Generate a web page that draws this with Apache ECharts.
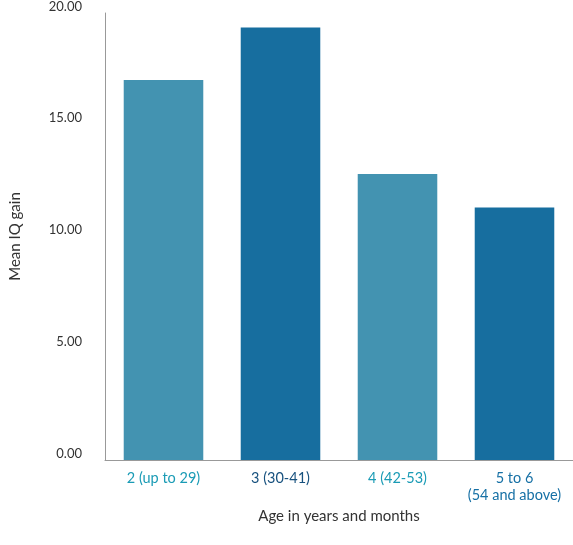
<!DOCTYPE html>
<html><head><meta charset="utf-8">
<script src="https://cdn.jsdelivr.net/npm/echarts@6/dist/echarts.min.js"></script>
<style>html,body{margin:0;padding:0;background:#fff}#c{width:573px;height:545px}</style>
</head><body><div id="c"></div>
<script>
const categories = ["2 (up to 29)", "3 (30-41)", "4 (42-53)", "5 to 6\n(54 and above)"];
const values = [17.0, 19.35, 12.8, 11.3];
const barColors = ["#4393B1", "#176E9F", "#4393B1", "#176E9F"];
const labelColors = ["#1A9BB5", "#17517E", "#1A9BB5", "#1670A5"];
const font = "Lato, 'Open Sans', sans-serif";
const chart = echarts.init(document.getElementById('c'));
chart.setOption({
  animation: false,
  grid: {left: 105, right: 0, top: 12, bottom: 85},
  xAxis: {
    type: 'category', data: categories,
    name: 'Age in years and months', nameLocation: 'middle', nameGap: 46,
    nameTextStyle: {color: '#333', fontSize: 15, fontFamily: font},
    axisLine: {lineStyle: {color: '#999'}}, axisTick: {show: false},
    axisLabel: {interval: 0, fontSize: 14.5, fontFamily: font, lineHeight: 17, margin: 10,
      color: (v, i) => labelColors[i]}
  },
  yAxis: {
    type: 'value', min: 0, max: 20, interval: 5,
    name: 'Mean IQ gain', nameLocation: 'middle', nameGap: 82,
    nameTextStyle: {color: '#333', fontSize: 15, fontFamily: font},
    axisLine: {show: true, lineStyle: {color: '#999'}}, axisTick: {show: false},
    splitLine: {show: false},
    axisLabel: {fontSize: 13, fontFamily: font, color: '#333', margin: 23,
      formatter: v => v.toFixed(2), verticalAlign: 'bottom'}
  },
  series: [{
    type: 'bar', barCategoryGap: '32%',
    data: values.map((v, i) => ({value: v, itemStyle: {color: barColors[i]}}))
  }]
});
</script></body></html>
